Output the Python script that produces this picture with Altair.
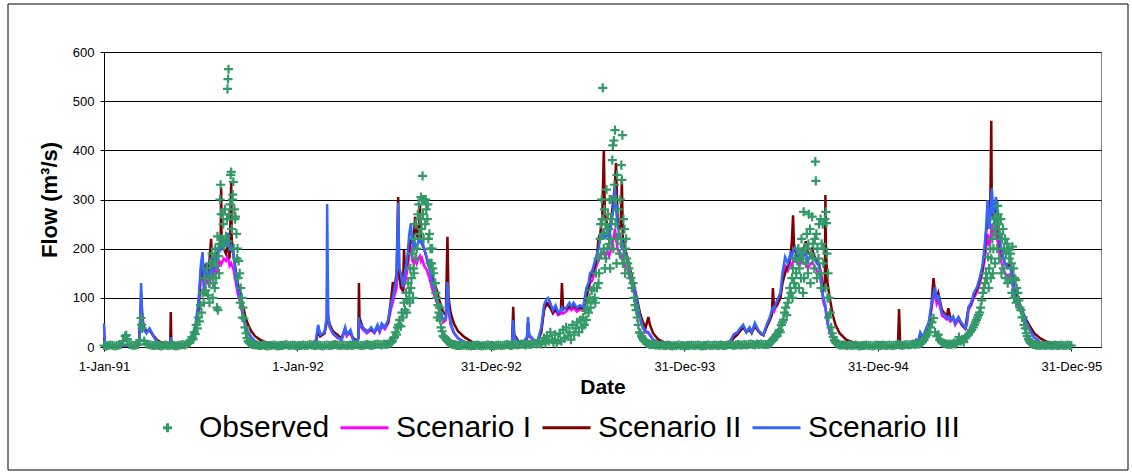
import altair as alt
import pandas as pd

START = pd.Timestamp("1991-01-01")

# ---- Simulated scenarios: (day since 1-Jan-91, Scenario III, Scenario I, Scenario II)
scen_1991 = [(0,48,40,20),(2,5,5,5),(20,3,3,3),(40,3,3,4),(60,4,4,4),(66,8,8,8),(68,40,38,50),(70,130,110,92),
    (72,60,70,60),(75,35,40,40),(80,28,30,32),(86,38,35,35),(92,25,24,25),(100,10,10,14),(110,5,5,8),(124,4,4,5),
    (125,4,4,6),(126,20,15,71),(127,6,5,10),(135,4,4,5),(150,4,4,4),(160,8,8,6),(166,25,22,18),(172,40,35,35),
    (178,90,80,70),(183,170,150,160),(186,193,170,150),(189,120,105,140),(192,160,140,170),(196,150,130,140),
    (199,140,125,175),(202,183,160,220),(205,150,135,160),(209,190,165,180),(213,170,150,190),(217,210,175,200),
    (220,200,170,210),(221,205,175,325),(222,200,170,200),(226,218,180,200),(230,210,175,190),(234,232,185,210),
    (237,200,165,180),(240,205,170,336),(241,195,165,220),(244,190,160,190),(248,150,135,160),(252,120,110,130),
    (257,100,90,110),(262,70,62,85),(267,45,40,60),(272,30,28,45),(278,20,18,32),(285,12,11,22),(294,8,7,15),
    (305,5,5,10),(318,4,4,6),(340,3,3,4),(365,3,3,3)]
scen_1992 = [(390,4,4,4),(400,15,14,12),(404,45,40,30),(408,25,22,22),(416,30,28,28),(420,60,50,50),(421,291,122,55),
    (423,60,60,60),(426,40,40,45),(432,28,27,32),(440,20,19,25),(448,15,14,18),(455,40,35,38),(458,25,22,28),
    (465,35,30,30),(470,15,14,18),(478,10,10,12),(480,20,18,20),(481,60,50,130),(482,50,45,60),(488,40,36,40),
    (496,30,28,32),(504,40,35,36),(510,30,28,30),(516,45,40,42),(520,32,30,35),(524,48,42,46),(530,40,36,42),
    (536,55,48,50),(542,90,80,100),(545,100,90,132),(548,120,105,120),(552,140,120,150),(555,293,200,305),
    (557,160,140,150),(560,150,130,120),(564,122,110,116),(566,140,125,197),(568,150,130,160),(572,180,155,170),
    (576,230,190,200),(579,252,205,220),(582,210,175,210),(585,200,170,230),(587,210,180,265),(590,200,170,230),
    (593,215,180,220),(596,220,185,289),(598,210,175,220),(600,218,180,210),(604,200,165,200),(609,181,157,180),
    (614,160,140,160),(620,130,115,140),(628,102,90,115),(634,75,68,90),(640,55,50,70),(645,60,55,65),
    (648,132,120,224),(650,80,75,100),(654,50,45,70),(660,30,28,48),(668,18,17,32),(680,10,9,20),(695,6,6,10),
    (710,4,4,6),(730,3,3,4)]
scen_1993 = [(760,3,3,3),(770,8,7,8),(772,55,45,82),(774,20,18,25),(782,10,10,12),(790,8,8,9),(798,20,18,18),
    (800,61,52,50),(802,25,22,25),(810,15,14,15),(818,12,11,12),(825,40,35,30),(830,85,75,75),(835,98,88,90),
    (838,100,90,85),(842,90,80,80),(847,75,68,70),(852,85,75,78),(857,70,65,68),(862,75,68,75),(864,80,70,130),
    (866,75,68,80),(872,80,72,78),(878,90,80,82),(882,82,75,80),(886,90,80,85),(892,80,72,78),(898,85,76,80),
    (904,81,74,78),(910,120,105,100),(914,130,115,120),(917,150,130,140),(921,155,135,150),(925,170,150,160),
    (929,185,165,175),(933,200,175,220),(936,220,185,230),(940,230,190,260),(943,238,195,400),(945,220,185,270),
    (949,235,195,250),(953,220,185,240),(957,250,200,260),(961,280,220,300),(964,326,240,330),(966,280,220,374),
    (969,250,200,260),(972,230,190,240),(975,220,185,250),(977,220,185,340),(979,200,170,220),(983,190,165,200),
    (987,183,160,185),(992,155,140,160),(998,130,120,135),(1004,100,92,105),(1011,61,58,70),(1017,40,38,50),
    (1022,32,30,40),(1027,30,28,61),(1030,25,24,45),(1036,15,14,28),(1045,10,10,16),(1060,6,6,8),(1080,4,4,5),
    (1100,3,3,4)]
scen_1994 = [(1150,3,3,3),(1175,4,5,4),(1181,10,12,8),(1188,25,25,18),(1195,30,30,25),(1200,38,36,32),
    (1206,45,42,40),(1212,30,30,30),(1218,40,38,35),(1222,30,30,28),(1228,49,45,42),(1234,35,33,33),(1240,28,27,26),
    (1244,25,24,24),(1250,45,42,40),(1256,60,55,55),(1260,75,70,65),(1262,80,75,120),(1264,78,72,80),(1270,95,88,85),
    (1276,110,100,100),(1280,150,135,130),(1285,183,165,150),(1290,170,155,165),(1295,190,170,180),(1298,180,165,220),
    (1300,195,175,268),(1302,200,180,200),(1304,203,182,195),(1308,190,172,185),(1312,180,165,190),(1316,200,180,195),
    (1320,185,170,200),(1324,190,172,215),(1328,175,160,190),(1332,185,168,190),(1336,190,172,200),(1340,180,165,185),
    (1345,170,155,175),(1350,163,150,165),(1354,130,120,140),(1357,100,92,115),(1360,89,82,120),(1361,85,80,309),
    (1362,75,70,200),(1365,50,48,130),(1370,30,28,95),(1375,20,19,65),(1380,14,13,45),(1388,10,10,28),(1400,6,6,15),
    (1420,4,4,7),(1440,3,3,4),(1460,3,3,3)]
scen_1995 = [(1490,3,3,3),(1498,4,4,5),(1500,10,14,77),(1502,5,6,8),(1515,3,3,4),(1528,8,8,6),(1532,15,14,12),
    (1536,10,10,10),(1540,30,27,25),(1545,20,19,20),(1550,35,32,30),(1556,50,45,45),(1560,80,72,70),(1565,110,100,140),
    (1568,122,110,110),(1571,95,88,100),(1574,106,96,110),(1578,85,78,90),(1581,69,64,75),(1586,65,60,68),(1590,60,56,62),
    (1593,62,58,79),(1597,55,52,58),(1602,62,58,60),(1606,48,45,50),(1612,61,56,60),(1617,50,47,48),(1621,45,42,42),
    (1625,39,37,38),(1628,50,46,60),(1631,81,75,80),(1636,90,85,88),(1641,110,100,105),(1647,122,112,118),
    (1652,140,128,135),(1657,163,150,155),(1661,200,175,190),(1664,240,200,230),(1667,299,230,260),(1670,240,205,250),
    (1672,260,215,270),(1674,300,240,460),(1675,323,250,280),(1678,270,225,260),(1681,290,235,280),(1683,305,240,300),
    (1686,260,215,250),(1689,230,195,220),(1691,211,180,205),(1695,190,165,185),(1700,170,150,170),(1705,160,145,165),
    (1710,163,148,170),(1715,130,120,140),(1719,102,95,110),(1724,95,88,100),(1729,80,75,85),(1734,69,64,69),
    (1740,50,47,55),(1747,35,33,42),(1755,20,19,28),(1766,10,10,18),(1776,6,6,12),(1785,4,4,8),(1800,3,3,5),
    (1815,3,3,4),(1825,3,3,3)]

# ---- Observed flows: regularly sampled stretches (start day, step in days, values)
obs_stretches = [
    (0, 4, [3,2,3,4,3,2,3,4,5,12,22,16,5,4,3,4,5,14,38,12,6,5,4,3,3,4,3,2,3,4,3,3,4,3,2,3,4,5,4,6,8]),
    (162, 2, [10,14,20,16,30,26,45,38,60,52,85,70,110,90,140,115,160,105,130,170,145,190,130,175,200,165,225,185,
              210,330,220,270,205,280,225,260,215,270,290,356,300,336,280,265,230,200,175,150,120,100,80,58,40,28,
              18,12,9,7,6,5]),
    (284, 4, [4,4,3,3,4,3,2,3,3,4,3,2,3,3,4,5,3,3,4,3,2,3,3,4,3,3,5,4,3,3,4,3,2,3,4,3,3,4,5,4,3,3,4,3,3,4,3,4,
              5,4,3,3,4,5,4,3,4,5,6,5,4,6,5,6]),
    (540, 2, [8,10,12,18,20,30,25,40,45,55,42,70,60,90,75,110,95,130,110,160,140,190,160,220,250,200,270,290,260,
              305,300,270,300,250,280,260,220,230,200,170,160,150,130,110,100,85,70,55,40,32,22,20,18,15,12,10,8,
              7,6,5,5,4,4,3,3,3]),
    (672, 4, [3,3,4,3,3,2,3,3,4,3,2,3,3,4,3,3,2,3,4,3,3,4,5,4,3,4,5,4,5,6,5,4,6,5,6,7,6,8]),
    (824, 3, [6,10,18,8,22,12,30,15,10,25,8,14,28,12,35,18,40,22,30,15,45,25,38,50,30,55,40]),
    (904, 2, [60,45,75,55,90,70,100,80,115,95,120,100,150,120,180,150,220,190,260,230,280,250,320,200,240,300,220,
              260,410,420,441,300,350,280,230,300,370,431,260,240,200,180,170,160,150,140,120,130,100,85,75,60,45,
              30,28,22,18,14,12,10,8,7,6,5]),
    (1032, 4, [5,5,4,4,3,4,3,3,4,3,2,3,3,4,3,3,2,3,3,4,3,3,4,3,2,3,3,4,3,3,4,3,3,4,3,3,4,5,4,3,4,5,4,4,5,4,5,6,5,
               4,6,5,6,5,5]),
    (1252, 2, [5,6,8,10,12,15,18,20,25,22,30,35,30,45,50,55,70,80,65,90,100,120,110,140,160,130,180,150,175,200,160,
               190,220,180,275,200,170,230,150,270,240,190,265,210,160,377,230,200,180,150,260,210,250,200,260,275,
               190,150,100,70,40,28,20,14,10,8,6,5,4,4]),
    (1394, 4, [4,4,3,4,3,3,4,3,2,3,3,4,3,3,2,3,4,3,3,4,3,3,4,3,3,4,5,4,3,4,5,4,5,6,5,6]),
    (1538, 3, [6,8,10,14,20,25,30,40,50,59,30,22,25,14,10,8,7,6,5,6,5,6,8,6,10,20,12,15,10,18,22,25,30,35,40]),
    (1642, 2, [45,50,55,60,65,70,80,95,110,120,130,150,140,183,160,200,180,220,200,240,230,265,287,250,230,260,220,
               240,200,220,190,210,200,180,190,170,204,160,140,136,120,110,95,80,75,60,61,45,38,28,22,16,12,9,7,6,
               5,5,4,4]),
    (1762, 4, [4,3,4,3,3,4,3,3,4,3,3,4,3,3,4,3]),
]
# scattered daily observations (day, flow) lying off the sampled stretches
obs_scatter_days = [42,70,71,199,205,209,211,213,215,217,219,221,225,233,234,235,239,241,243,245,247,251,253,257,261,
    571,577,579,583,585,589,595,599,601,603,607,611,615,619,625,629,633,
    927,933,937,939,941,943,945,947,949,951,953,955,957,959,961,963,965,967,969,973,975,977,979,981,983,985,
    1299,1305,1311,1315,1319,1321,1325,1329,1333,1337,1341,1343,1345,1349,1353,1357,1361,1363,1365,1367,
    1669,1673,1677,1679,1681,1683,1685,1687,1689,1693,1697,1701,1705,1709,1713,1717,1721,1825]
obs_scatter_vals = [24,59,45,90,100,120,140,80,75,150,300,270,250,525,545,565,350,240,310,200,260,180,140,90,60,
    70,90,120,100,150,180,230,240,348,220,300,290,170,200,130,60,80,
    90,130,250,300,527,200,160,180,240,270,210,160,300,380,200,330,250,170,220,190,210,340,170,180,150,220,
    100,120,120,140,110,140,200,210,130,180,220,338,140,250,120,170,120,252,100,60,
    120,140,150,260,170,250,200,270,180,150,160,140,130,140,110,100,90,3]

NAMES = ["Observed", "Scenario I", "Scenario II", "Scenario III"]
COLORS = ["#339966", "#FF00FF", "#800000", "#3366FF"]
PLUS = "M-0.19,0H0.19M0,-0.19V0.19"
SHAPES = [PLUS, "stroke", "stroke", "stroke"]


def to_dates(days):
    return [(START + pd.Timedelta(days=int(d))).strftime("%Y-%m-%d") for d in days]


rows = scen_1991 + scen_1992 + scen_1993 + scen_1994 + scen_1995
sdays = [r[0] for r in rows]
scen_frames = []
for name, idx in [("Scenario I", 2), ("Scenario II", 3), ("Scenario III", 1)]:
    scen_frames.append(pd.DataFrame({"date": to_dates(sdays), "flow": [r[idx] for r in rows], "series": name}))

od, ov = [], []
for start, step, vals in obs_stretches:
    od += [start + step * i for i in range(len(vals))]
    ov += vals
od += obs_scatter_days
ov += obs_scatter_vals
obs_df = pd.DataFrame({"date": to_dates(od), "flow": ov, "series": "Observed"})

FONT = "Liberation Sans, Arial, sans-serif"

x_enc = alt.X(
    "date:T",
    scale=alt.Scale(type="utc", domain=[alt.DateTime(year=1991, month=1, date=1, utc=True),
                                        alt.DateTime(year=1996, month=2, date=25, utc=True)]),
    axis=alt.Axis(
        title="Date",
        values=[alt.DateTime(year=1991, month=1, date=1, utc=True),
                alt.DateTime(year=1992, month=1, date=1, utc=True),
                alt.DateTime(year=1992, month=12, date=31, utc=True),
                alt.DateTime(year=1993, month=12, date=31, utc=True),
                alt.DateTime(year=1994, month=12, date=31, utc=True),
                alt.DateTime(year=1995, month=12, date=31, utc=True)],
        format="%-d-%b-%y", grid=False, labelFontSize=13, labelPadding=9, tickSize=4,
        labelFlush=False, labelAlign="center",
        titleFontSize=21, titleFontWeight="bold", titlePadding=3, labelOverlap=False,
    ),
)
y_enc = alt.Y(
    "flow:Q",
    scale=alt.Scale(domain=[0, 600], nice=False),
    axis=alt.Axis(title="Flow (m³/s)", values=[0, 100, 200, 300, 400, 500, 600], grid=True,
                  labelFontSize=13, labelPadding=6, tickSize=4, titleFontSize=22,
                  titleFontWeight="bold", titlePadding=11),
)
color_enc = alt.Color("series:N", scale=alt.Scale(domain=NAMES, range=COLORS), legend=alt.Legend(title=None))
shape_enc = alt.Shape("series:N", scale=alt.Scale(domain=NAMES, range=SHAPES), legend=alt.Legend(title=None))

layers = []
for df in scen_frames:
    layers.append(alt.Chart(df).mark_line(strokeWidth=2.5).encode(x=x_enc, y=y_enc, color=color_enc))
points = alt.Chart(obs_df).mark_point(filled=False, size=2304, strokeWidth=2.2, opacity=1).encode(
    x=x_enc, y=y_enc, color=color_enc, shape=shape_enc)
frame = alt.Chart(alt.Data(values=[{"a": 1}])).mark_rect(fill="transparent", stroke="black", strokeWidth=1).encode(
    x=alt.value(-96), x2=alt.value(1024), y=alt.value(-48), y2=alt.value(418))

chart = alt.layer(*layers, points, frame).properties(
    width=997, height=295,
    autosize=alt.AutoSizeParams(type="none"),
    padding={"left": 104, "top": 52, "right": 31, "bottom": 127},
    background="white",
).configure_view(stroke="#808080", strokeWidth=1).configure_axis(
    labelFont=FONT, titleFont=FONT, labelColor="black", titleColor="black",
    domainColor="black", tickColor="black", gridColor="black", gridWidth=1, domainWidth=1,
).configure_legend(
    orient="none", legendX=38, legendY=350, direction="horizontal",
    labelFont=FONT, labelFontSize=30, labelColor="black", symbolSize=2304, symbolStrokeWidth=3,
    labelOffset=6, columnPadding=4, padding=0, symbolOpacity=1,
)

chart.save("out.html", embed_options={"renderer": "svg", "actions": False})
